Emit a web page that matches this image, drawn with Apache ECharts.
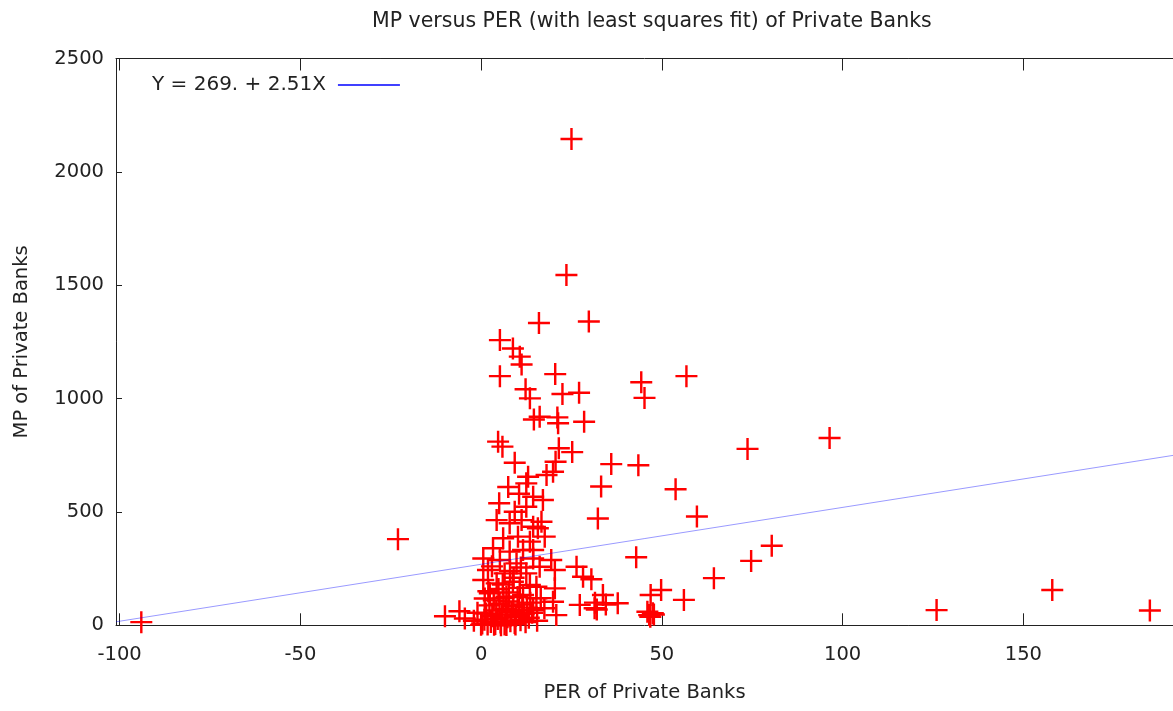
<!DOCTYPE html>
<html><head><meta charset="utf-8">
<script src="https://cdn.jsdelivr.net/npm/echarts@6/dist/echarts.min.js"></script>
<style>html,body{margin:0;padding:0;background:#fff}#c{width:1173px;height:711px}</style>
</head><body><div id="c"></div>
<script>
// PER (x) and MP (y) of private banks
const perValues = [
 -94, -23, 25, 23.6, 16, 29.8, 5.2, 8.8, 10.7, 11.2, 5.2, 20.5, 12.3, 13.5, 22.5, 27.1,
 14.6, 16.2, 21.1, 21.3, 28.5, 4.7, 5.9, 9.3, 21.5, 25.2, 20.6, 36, 13, 18.1, 19.9, 33.2,
 44.3, 56.8, 45.2, 96.4, 73.7, 43.5, 53.8, 59.7, 32.3, 80.4, 74.7, 42.9, 64.4, 49.8, 46.9,
 56.1, 126, 158, 185, 47.5, 46.5, 46, 47.8, 46.8,
 33.7, 31.5, 34.5, 32, 37.8, 30.5, 27.3, 31.4, 20.8, 19.9, 15.3, 20.4, 15.3, 28.2, 26.4,
 20.4, 16.2, 19.4, 14.4, 17.6, 15.7, 16.7, 14.4, 17.1, 14.4,
 12.5, 5.0, 9.3, 12.5, 4.3, 7.9, 11.2, 14.4, 6.1, 10.2, 13.5, 3.3, 7.9, 11.6, 0.6, 5.2,
 9.8, 14.4, 1.9, 6.5, 12.5, 0.6, 4.3, 8.8, 13.5, 2.4, 7.0, 11.6,
 -10, -6, -4.5, -2, -1,
 0.3, 0.9, 1.4, 1.8, 2.3, 2.7, 3.1, 3.5, 3.9, 4.2, 4.6, 5.1, 5.4, 5.8, 6.2, 6.5, 6.9, 7.3,
 7.6, 8.1, 8.4, 8.9, 9.3, 9.6, 10.1, 10.5, 10.9, 11.4, 11.8, 12.3, 12.7, 13.2, 13.6, 14.1,
 2.0, 4.8, 7.7, 10.7, 1.0, 6.0, 9.0, 3.0, 8.0, 11.0, 0.0, 15.5, 17.5, 16.5, 5.5, 7.0, 9.5, 3.6,
 10.5, 7.5
];
const mpValues = [
 14, 380, 2145, 1545, 1333, 1340, 1258, 1221, 1185, 1150, 1099, 1108, 1041, 1001, 1020, 1026,
 908, 920, 917, 891, 898, 810, 788, 717, 781, 764, 721, 711, 655, 663, 677, 612,
 1072, 1099, 1003, 826, 778, 706, 600, 480, 471, 351, 284, 300, 208, 156, 134,
 112, 67, 156, 65, 53, 45, 60, 48, 38,
 134, 100, 92, 70, 97, 203, 90, 75, 45, 104, 119, 163, 170, 214, 258,
 244, 258, 288, 332, 391, 428, 457, 567, 553, 67,
 626, 538, 501, 523, 464, 450, 464, 435, 384, 391, 369, 340, 325, 332, 295, 288,
 273, 295, 244, 229, 229, 200, 185, 192, 178, 141, 126, 134,
 40, 62, 30, 20, 55,
 8, 25, 52, 4, 88, 15, 40, 110, 6, 65, 28, 95, 12, 48, 120, 3, 72, 35,
 105, 18, 58, 85, 10, 42, 125, 68, 22, 92, 50, 14, 78, 33, 100, 55,
 150, 160, 145, 165, 118, 180, 210, 260, 240, 255, 2, 20, 75, 120, 0, 1, 4, 2,
 580, 610
];
const xTicks = [-100, -50, 0, 50, 100, 150];
const yTicks = [0, 500, 1000, 1500, 2000, 2500];
const xRange = [-101, 191.4];
const yRange = [0, 2500];
const fitIntercept = 269;
const fitSlope = 2.51;
const fitLabel = 'Y = 269. + 2.51X';
const titleText = 'MP versus PER (with least squares fit) of Private Banks';
const xName = 'PER of Private Banks';
const yName = 'MP of Private Banks';

const FONT = 'DejaVu Sans';
const TXT = '#222';
const points = perValues.map((x, i) => [x, mpValues[i]]);
const fitData = xRange.map(x => [x, fitIntercept + fitSlope * x]);
const cross = 'path://M0,8.9 L8.9,8.9 L8.9,0 L11.1,0 L11.1,8.9 L20,8.9 L20,11.1 L11.1,11.1 L11.1,20 L8.9,20 L8.9,11.1 L0,11.1 Z';

const axisLine = {show: true, onZero: false, lineStyle: {color: '#222', width: 1}};
const lbl = {fontFamily: FONT, fontSize: 19.5, color: TXT, formatter: v => String(v)};

const chart = echarts.init(document.getElementById('c'), null, {renderer: 'canvas'});
chart.setOption({
  animation: false,
  backgroundColor: '#fff',
  title: {
    text: titleText, left: 372, top: 11, padding: 0,
    textStyle: {fontFamily: FONT, fontSize: 20.5, fontWeight: 'normal', color: TXT}
  },
  legend: {
    data: [{name: fitLabel, icon: 'rect', itemStyle: {color: '#0000ff'}}],
    left: 152, top: 75, padding: 0, align: 'right',
    itemWidth: 62, itemHeight: 1.5, selectedMode: false,
    textStyle: {fontFamily: FONT, fontSize: 20, color: TXT, padding: [0, 7, 0, 0]}
  },
  grid: {left: 116, right: 0, top: 58.5, bottom: 85.7, containLabel: false},
  xAxis: [{
    type: 'value', position: 'bottom', min: xRange[0], max: xRange[1],
    axisLine: axisLine,
    axisTick: {show: true, inside: true, length: 12, customValues: xTicks, lineStyle: {color: '#222'}},
    axisLabel: Object.assign({customValues: xTicks, margin: 20}, lbl),
    splitLine: {show: false},
    name: xName, nameLocation: 'middle', nameGap: 58,
    nameTextStyle: {fontFamily: FONT, fontSize: 19.5, color: TXT}
  }, {
    type: 'value', position: 'top', min: xRange[0], max: xRange[1],
    axisLine: axisLine,
    axisTick: {show: true, inside: true, length: 12, customValues: xTicks, lineStyle: {color: '#222'}},
    axisLabel: {show: false, customValues: xTicks},
    splitLine: {show: false}
  }],
  yAxis: [{
    type: 'value', position: 'left', min: yRange[0], max: yRange[1], interval: 500,
    axisLine: axisLine,
    axisTick: {show: true, inside: true, length: 6, customValues: yTicks, lineStyle: {color: '#222'}},
    axisLabel: Object.assign({customValues: yTicks, margin: 12}, lbl),
    splitLine: {show: false},
    name: yName, nameLocation: 'middle', nameGap: 84, nameRotate: 90,
    nameTextStyle: {fontFamily: FONT, fontSize: 19.5, color: TXT}
  }],
  series: [{
    type: 'scatter', xAxisIndex: 0, yAxisIndex: 0, data: points,
    symbol: cross, symbolSize: 22, clip: false, silent: true,
    itemStyle: {color: '#ff0000', opacity: 1}, z: 2
  }, {
    type: 'line', name: fitLabel, xAxisIndex: 0, yAxisIndex: 0, data: fitData,
    showSymbol: false, symbol: 'none', silent: true,
    lineStyle: {color: 'rgba(0,0,255,0.4)', width: 1},
    itemStyle: {color: '#0000ff'}, z: 3
  }]
});
</script>
</body></html>
